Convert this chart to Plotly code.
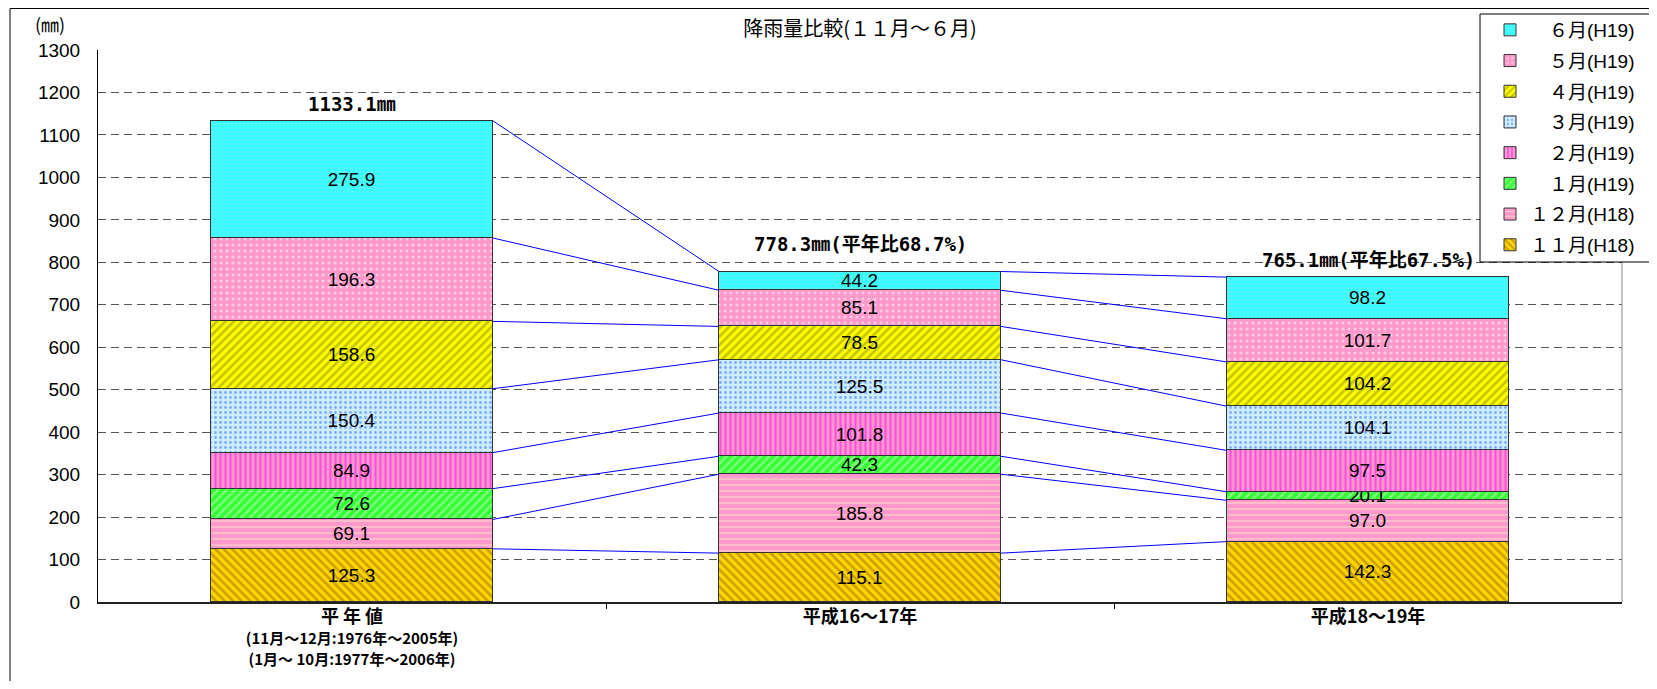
import plotly.graph_objects as go

# ---------------- data ----------------
categories = ["平 年 値", "平成16～17年", "平成18～19年"]
category_notes = ["(11月～12月:1976年～2005年)", "(1月～ 10月:1977年～2006年)"]
series_names = ["１１月(H18)", "１２月(H18)", "　１月(H19)", "　２月(H19)",
                "　３月(H19)", "　４月(H19)", "　５月(H19)", "　６月(H19)"]
nov = [125.3, 115.1, 142.3]
dec = [69.1, 185.8, 97.0]
jan = [72.6, 42.3, 20.1]
feb = [84.9, 101.8, 97.5]
mar = [150.4, 125.5, 104.1]
apr = [158.6, 78.5, 104.2]
may = [196.3, 85.1, 101.7]
jun = [275.9, 44.2, 98.2]
y_ticks = list(range(0, 1301, 100))
title_text = "降雨量比較(１１月～６月)"
unit_text = "(㎜)"

series_values = [nov, dec, jan, feb, mar, apr, may, jun]

# ---------------- styles ----------------
patterns = [
    dict(shape="\\", bgcolor="#FFD700", fgcolor="#9A6A00", size=6, solidity=0.45),  # 11
    dict(shape="-", bgcolor="#FF99CC", fgcolor="#FFE8CC", size=6, solidity=0.3),     # 12
    dict(shape="/", bgcolor="#33FF33", fgcolor="#CCFFCC", size=6, solidity=0.4),     # 1
    dict(shape="|", bgcolor="#FF99CC", fgcolor="#FF00FF", size=5, solidity=0.4),     # 2
    dict(shape=".", bgcolor="#CCEEFF", fgcolor="#3366FF", size=5, solidity=0.25),    # 3
    dict(shape="/", bgcolor="#FFFF00", fgcolor="#8C8C00", size=6, solidity=0.45),    # 4
    dict(shape=".", bgcolor="#FF99CC", fgcolor="#FFFFFF", size=6, solidity=0.2),     # 5
    dict(shape=".", bgcolor="#33FFFF", fgcolor="#99DDDD", size=4, solidity=0.3),     # 6
]
total_label_shift = [4, 15, 4]   # vertical offset (px) of each total label

# page has an 8px body margin: work in reference pixel coords and shift
OFF = 8
W, H = 1657 - 2 * OFF, 689 - 2 * OFF
PL, PR, PT, PB = 98, 1622, 50, 602          # plot area in reference pixels
ML, MT = PL - OFF, PT - OFF
MR, MB = W - (PR - OFF), H - (PB - OFF)
PW, PH = PR - PL, PB - PT

FONT = "Liberation Sans, Arial, Noto Sans CJK JP"
CJK = "Noto Sans CJK JP, Liberation Sans"
BOLD_MONO = "DejaVu Sans Mono, Noto Sans CJK JP"

xs = list(range(len(categories)))
BW = 0.555
XR = [-0.5, len(categories) - 0.5]


def px_x(p):
    return (p - PL) / PW


def px_y(p):
    return (PB - p) / PH


fig = go.Figure()

n = len(series_names)
for idx, (name, vals, pat) in enumerate(zip(series_names, series_values, patterns)):
    fig.add_trace(go.Bar(
        x=xs, y=vals, name=name, width=BW, legendgroup=name, legendrank=n - idx,
        marker=dict(color=pat["bgcolor"], pattern=pat,
                    line=dict(color="#333333", width=1)),
        texttemplate="%{y:.1f}", textposition="inside",
        insidetextanchor="middle", constraintext="none",
        insidetextfont=dict(family=FONT, size=19, color="black"),
        cliponaxis=False, hoverinfo="name+y",
    ))

# cumulative tops
cums = []
for i in range(len(categories)):
    c, acc = [], 0.0
    for vals in series_values:
        acc += vals[i]
        c.append(acc)
    cums.append(c)
totals = [c[-1] for c in cums]

# connector lines
lx, ly = [], []
for i in range(len(categories) - 1):
    for k in range(len(series_values)):
        lx += [xs[i] + BW / 2, xs[i + 1] - BW / 2, None]
        ly += [cums[i][k], cums[i + 1][k], None]
fig.add_trace(go.Scatter(x=lx, y=ly, mode="lines", line=dict(color="#0000FF", width=1),
                         showlegend=False, hoverinfo="skip"))

# totals
for i, t in enumerate(totals):
    if i == 0:
        label = f"{t:.1f}㎜"
    else:
        label = f"{t:.1f}㎜(平年比{t / totals[0] * 100:.1f}%)"
    fig.add_annotation(x=xs[i], y=t, text=label, showarrow=False,
                       xanchor="center", yanchor="bottom", yshift=total_label_shift[i],
                       font=dict(family=BOLD_MONO, size=19, color="black", weight="bold"))

ticktext = ["<span style='font-size:18px'><b>" + c + "</b></span>" for c in categories]
ticktext[0] += "<br>" + "<br>".join(
    f"<span style='font-size:15px'><b>{t}</b></span>" for t in category_notes)

fig.update_layout(
    width=W, height=H,
    margin=dict(l=ML, r=MR, t=MT, b=MB, pad=0, autoexpand=False),
    paper_bgcolor="white", plot_bgcolor="white",
    barmode="stack", bargap=0,
    font=dict(family=FONT, size=15, color="black"),
    title=dict(text=title_text, x=0.5, xref="paper", xanchor="center",
               y=1 - (29 - OFF) / H, yref="container", yanchor="middle",
               font=dict(family=CJK, size=20, color="black")),
    xaxis=dict(range=XR, tickmode="array", tickvals=xs, ticktext=ticktext,
               ticks="", showgrid=False, zeroline=False, automargin=False,
               showline=True, linecolor="#222222", linewidth=2,
               tickfont=dict(family=CJK, size=16, color="black"),
               minor=dict(tickmode="array", tickvals=[0.5, 1.5], ticks="outside",
                          ticklen=5, tickcolor="black", showgrid=False)),
    yaxis=dict(range=[0, 1300], tickmode="array", tickvals=y_ticks,
               ticks="", showline=True, linecolor="black", linewidth=1,
               showgrid=True, gridcolor="#555555", griddash="8px,5px", gridwidth=1,
               zeroline=False, ticklabelstandoff=13, automargin=False,
               tickfont=dict(family=FONT, size=19, color="black")),
    legend=dict(x=px_x(1490), xanchor="left", y=px_y(11), yanchor="top",
                xref="paper", yref="paper",
                traceorder="grouped", tracegroupgap=3,
                bgcolor="rgba(0,0,0,0)", borderwidth=0,
                font=dict(family=FONT, size=19, color="black")),
    showlegend=True,
)

shapes = [
    # outer chart frame
    dict(type="rect", xref="paper", yref="paper",
         x0=px_x(10), x1=px_x(1700), y0=px_y(720), y1=px_y(OFF + 0.5),
         line=dict(color="black", width=1), fillcolor="rgba(0,0,0,0)", layer="below"),
    # right border of plot area
    dict(type="line", xref="paper", yref="paper", x0=1, x1=1, y0=0, y1=1,
         line=dict(color="#888888", width=1), layer="above"),
    # legend box
    dict(type="rect", xref="paper", yref="paper",
         x0=px_x(1480), x1=px_x(1700), y0=px_y(262), y1=px_y(14),
         line=dict(color="black", width=1), fillcolor="white", layer="above"),
]
fig.update_layout(shapes=shapes)

fig.add_annotation(text=unit_text, xref="paper", yref="paper",
                   x=px_x(50), y=px_y(24), xanchor="center", yanchor="middle",
                   showarrow=False, font=dict(family=CJK, size=18, color="black"))

fig.write_html("out.html")
